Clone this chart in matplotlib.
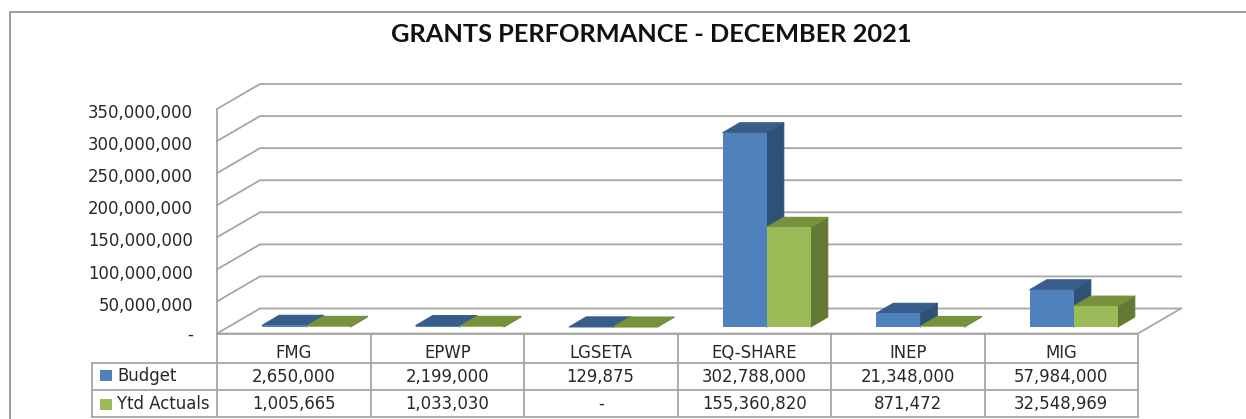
import matplotlib
matplotlib.use("Agg")
import matplotlib.pyplot as plt
from matplotlib.patches import Polygon, Rectangle

W, H = 1246, 419

categories = ["FMG", "EPWP", "LGSETA", "EQ-SHARE", "INEP", "MIG"]
budget = [2650000, 2199000, 129875, 302788000, 21348000, 57984000]
actuals = [1005665, 1033030, 0, 155360820, 871472, 32548969]
budget_txt = ["2,650,000", "2,199,000", "129,875", "302,788,000", "21,348,000", "57,984,000"]
actuals_txt = ["1,005,665", "1,033,030", "-", "155,360,820", "871,472", "32,548,969"]
y_ticks = [0, 50000000, 100000000, 150000000, 200000000, 250000000, 300000000, 350000000]
y_labels = ["-", "50,000,000", "100,000,000", "150,000,000", "200,000,000",
            "250,000,000", "300,000,000", "350,000,000"]
title = "GRANTS PERFORMANCE - DECEMBER 2021"
series_names = ["Budget", "Ytd Actuals"]

BLUE = ("#4F81BD", "#385D8A", "#2F5177")
GREEN = ("#9BBB59", "#76923C", "#647A34")
GRID = "#a6a6a6"
TXT = "#26262e"

# front wall of the plot in pixels
X0, X1, Y0, YT = 217, 1138, 333.5, 109
BACK_X, BACK_Y = 43, 25
BAR_W = 44
DEPTH_X, DEPTH_Y = 17, 10
SHIFT_X, SHIFT_Y = 12.5, 6.5

fig = plt.figure(figsize=(W / 100, H / 100), dpi=100, facecolor="white")
ax = fig.add_axes([X0 / W, 1 - Y0 / H, (X1 - X0) / W, (Y0 - YT) / H])
ax.set_xlim(0, len(categories))
ax.set_ylim(0, 350000000)
ax.axis("off")

px_x = len(categories) / (X1 - X0)
px_y = 350000000 / (Y0 - YT)


def poly(pts, color, z, lw=0.8, ec=None):
    ax.add_patch(Polygon(pts, closed=True, fc=color, ec=ec or color, lw=lw,
                         zorder=z, clip_on=False, joinstyle="round"))


# walls and gridlines
bx, by = BACK_X * px_x, BACK_Y * px_y
for v in y_ticks:
    ax.plot([0, bx, 6 + bx], [v, v + by, v + by], color=GRID, lw=1.3, zorder=1, clip_on=False)
ax.plot([0, 0], [0, 350000000], color=GRID, lw=1.3, zorder=1, clip_on=False)
ax.plot([0, 6, 6 + bx], [0, 0, by], color=GRID, lw=1.3, zorder=1, clip_on=False)

for v, lab in zip(y_ticks, y_labels):
    # the dash sits lower in its line box than the digits do
    off = 1.0 if lab == "-" else 4.2
    ax.text((193 - X0) * px_x, v - off * px_y, lab, ha="right", va="center", fontsize=11.9,
            color=TXT, clip_on=False)

# bars
dx, dy = DEPTH_X * px_x, DEPTH_Y * px_y
w = BAR_W * px_x
sx, sy = SHIFT_X * px_x, SHIFT_Y * px_y


def draw_bar(left, base, val, cols, z):
    right = left + w
    top = base + val
    ax.bar(left, val, width=w, bottom=base, align="edge", color=cols[0], zorder=z + 0.2, clip_on=False)
    poly([(right, base), (right + dx, base + dy), (right + dx, top + dy), (right, top)], cols[2], z)
    poly([(left, top), (left + dx, top + dy), (right + dx, top + dy), (right, top)], cols[1], z + 0.1)


for i in range(len(categories)):
    center = i + 0.5 + sx
    draw_bar(center - w, sy, budget[i], BLUE, 3)
    draw_bar(center, sy, actuals[i], GREEN, 4)

# data table under the plot
rows_y = [Y0, 362.5, 389.5, 417]
col_x = [X0 + (X1 - X0) * i / 6 for i in range(7)]
TABLE_L = 92


def fx(p):
    return (p - X0) * px_x


def fy(p):
    return (Y0 - p) * px_y


line = dict(color=GRID, lw=1.3, clip_on=False, zorder=2)
ax.plot([fx(X0), fx(X1)], [fy(rows_y[0])] * 2, **line)
for ry in rows_y[1:]:
    ax.plot([fx(TABLE_L), fx(X1)], [fy(ry)] * 2, **line)
for cx in col_x:
    ax.plot([fx(cx)] * 2, [fy(rows_y[0]), fy(rows_y[3])], **line)
ax.plot([fx(TABLE_L)] * 2, [fy(rows_y[1]), fy(rows_y[3])], **line)

for i, name in enumerate(categories):
    cx = i + 0.5
    ax.text(cx, fy(352.5), name, ha="center", va="center", fontsize=11.9, color=TXT, clip_on=False)
    ax.text(cx, fy(376.5), budget_txt[i], ha="center", va="center", fontsize=11.9, color=TXT, clip_on=False)
    ax.text(cx, fy(404), actuals_txt[i], ha="center", va="center", fontsize=11.9, color=TXT, clip_on=False)

for name, ry, col in zip(series_names, [375.5, 404], [BLUE[0], GREEN[0]]):
    ax.add_patch(Rectangle((fx(100), fy(ry + 5.5)), 12 * px_x, 11 * px_y, fc=col, ec="none", clip_on=False, zorder=3))
    ax.text(fx(117), fy(ry), name, ha="left", va="center", fontsize=11.9, color=TXT, clip_on=False)

# chart frame and title, no right edge in the picture
fig.add_artist(plt.Line2D([9.5 / W, 9.5 / W, 1], [0, 1 - 12.5 / H, 1 - 12.5 / H],
                          color="#8c8c8c", lw=1.2))
fig.text(651 / W, 1 - 35 / H, title, ha="center", va="center", fontsize=18.3,
         fontweight="bold", family="Lato", color="#111111")

fig.savefig("out.png", dpi=100)
